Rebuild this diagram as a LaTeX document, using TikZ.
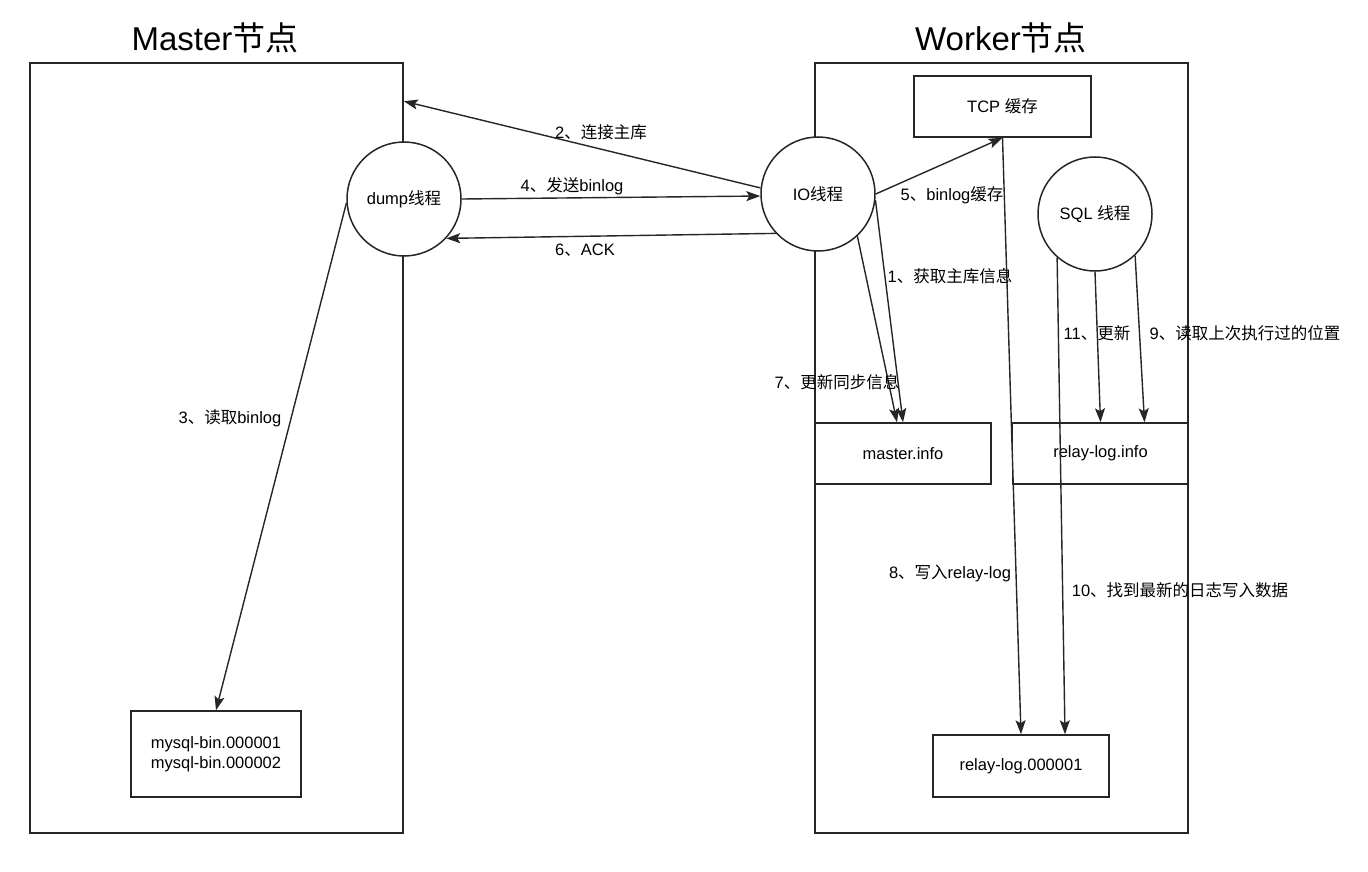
\documentclass[tikz,border=0pt]{standalone}
\usepackage{fontspec}
\setmainfont{Liberation Sans}
\newfontfamily\cjk{Noto Sans CJK SC}
\usetikzlibrary{arrows.meta,calc}
\begin{document}
\begin{tikzpicture}[x=1pt,y=-1pt,
  every node/.style={font=\fontsize{16.5}{20}\selectfont},
  frame/.style={draw=black!85, line width=1.6pt, inner sep=0pt},
  box/.style={draw=black!85, line width=1.5pt, inner sep=0pt, align=center},
  thread/.style={draw=black!85, circle, fill=white, line width=1.5pt, minimum size=114pt, inner sep=0pt},
  arr/.style={draw=black!85, line width=1.4pt, -{Stealth[length=14pt,width=10pt,inset=3pt]}},
  lbl/.style={inner sep=1pt},
  title/.style={font=\fontsize{33}{40}\selectfont}]
\useasboundingbox (0,0) rectangle (1368,872);
\fill[white] (0,0) rectangle (1368,872);

% titles
\node[title] (mt) at (215,38) {Master{\cjk 节点}};
\node[title] (wt) at (1001,38) {Worker{\cjk 节点}};

% frames
\node[frame, minimum width=373pt, minimum height=770pt] (master) at (216.5,448) {};
\node[frame, minimum width=373pt, minimum height=770pt] (worker) at (1001.5,448) {};

% boxes
\node[box, minimum width=170pt, minimum height=86pt] (mysql) at (216,754)
  {mysql-bin.000001\\mysql-bin.000002};
\node[box, minimum width=177pt, minimum height=61pt] (tcp) at (1002.5,106.5) {TCP {\cjk 缓存}};
\node[box, minimum width=176pt, minimum height=61pt] (minfo) at (903,453.5) {master.info};
\node[box, minimum width=176pt, minimum height=61pt] (rinfo) at (1100.5,453.5) {relay-log.info};
\node[box, minimum width=176pt, minimum height=62pt] (rl) at (1021,766) {relay-log.000001};

% threads
\node[thread] (dump) at (404,199) {dump{\cjk 线程}};
\node[thread] (io) at (818,194) {IO{\cjk 线程}};
\node[thread] (sql) at (1095,214) {SQL {\cjk 线程}};

% connectors
\draw[arr] (io.174) -- ($(master.north east)+(0,39)$);
\draw[arr] (dump.0) -- (io.182);
\draw[arr] (io.223) -- (dump.317);
\draw[arr] (dump.184) -- (mysql.north);
\draw[arr] (io.0) -- (tcp.south);
\draw[arr] (io.313) -- ($(minfo.north)+(-6,0)$);
\draw[arr] (io.354) -- ($(minfo.north)+(0,0)$);
\draw[arr] (tcp.south) -- (rl.north);
\draw[arr] (sql.229) -- ($(rl.north)+(44,0)$);
\draw[arr] (sql.south) -- (rinfo.north);
\draw[arr] (sql.314) -- ($(rinfo.north)+(44,0)$);

% labels
\node[lbl] (l2) at (601,132) {2{\cjk 、连接主库}};
\node[lbl] (l4) at (572,186) {4{\cjk 、发送}binlog};
\node[lbl] (l6) at (585,250) {6{\cjk 、}ACK};
\node[lbl] (l3) at (230,418) {3{\cjk 、读取}binlog};
\node[lbl] (l5) at (952,195) {5{\cjk 、}binlog{\cjk 缓存}};
\node[lbl] (l1) at (950,276) {1{\cjk 、获取主库信息}};
\node[lbl] (l7) at (837,382) {7{\cjk 、更新同步信息}};
\node[lbl] (l11) at (1097,333) {11{\cjk 、更新}};
\node[lbl] (l9) at (1245,333) {9{\cjk 、读取上次执行过的位置}};
\node[lbl] (l8) at (950,573) {8{\cjk 、写入}relay-log};
\node[lbl] (l10) at (1180,590) {10{\cjk 、找到最新的日志写入数据}};
\end{tikzpicture}
\end{document}
